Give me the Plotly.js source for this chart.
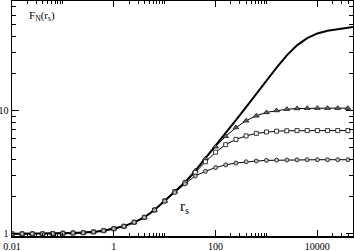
<!DOCTYPE html>
<html>
<head>
<meta charset="utf-8">
<script src="https://cdn.plot.ly/plotly-3.0.1.min.js"></script>
<style>html,body{margin:0;padding:0;background:#fff;}#chart{width:354px;height:251px;}</style>
</head>
<body>
<div id="chart"></div>
<script>
// r_s sample points (log-spaced, 0.2 decade)
var rs = [0.01, 0.0158, 0.0251, 0.0398, 0.0631, 0.1, 0.158, 0.251, 0.398, 0.631,
          1, 1.58, 2.51, 3.98, 6.31, 10, 15.8, 25.1, 39.8, 63.1,
          100, 158, 251, 398, 631, 1000, 1580, 2510, 3980, 6310,
          10000, 15800, 25100, 39800];
var rsLine = rs.concat([50000]);

// solid curve (no markers)
var fSolid = [1.0, 1.0, 1.0, 1.0, 1.005, 1.01, 1.015, 1.02, 1.035, 1.06,
              1.1, 1.15, 1.24, 1.36, 1.56, 1.85, 2.2, 2.62, 3.25, 4.1,
              5.2, 6.6, 8.4, 10.7, 13.8, 17.6, 22.4, 28.2, 34.0, 38.9,
              42.5, 44.7, 46.2, 47.3, 47.9];
// triangles
var fTri = [1.0, 1.0, 1.0, 1.0, 1.005, 1.01, 1.015, 1.02, 1.035, 1.06,
            1.1, 1.15, 1.24, 1.36, 1.56, 1.85, 2.2, 2.62, 3.25, 4.08,
            5.1, 6.2, 7.3, 8.3, 9.1, 9.7, 10.05, 10.3, 10.42, 10.48,
            10.5, 10.5, 10.5, 10.5];
// squares
var fSq = [1.0, 1.0, 1.0, 1.0, 1.005, 1.01, 1.015, 1.02, 1.035, 1.06,
           1.1, 1.15, 1.24, 1.36, 1.56, 1.85, 2.2, 2.6, 3.15, 3.85,
           4.6, 5.3, 5.85, 6.25, 6.55, 6.72, 6.82, 6.87, 6.9, 6.9,
           6.9, 6.9, 6.9, 6.9];
// circles
var fCirc = [1.0, 1.0, 1.0, 1.0, 1.005, 1.01, 1.015, 1.02, 1.035, 1.06,
             1.1, 1.15, 1.24, 1.36, 1.56, 1.84, 2.17, 2.55, 2.95, 3.22,
             3.45, 3.63, 3.76, 3.85, 3.9, 3.95, 3.97, 3.98, 3.99, 4.0,
             4.0, 4.0, 4.0, 4.0];

var xMajor = [0.01, 1, 100, 10000];
var xMajorText = ["0.01", "1", "100", "10000"];
var xMinor = [0.02,0.03,0.04,0.05,0.06,0.07,0.08,0.09,0.1,
              2,3,4,5,6,7,8,9,10,
              200,300,400,500,600,700,800,900,1000,
              20000,30000,40000];
var yMajor = [1, 10];
var yMajorText = ["1", "10"];
var yMinor = [2,3,4,5,6,7,8,9,20,30,40,50,60,70];

var mk = function(sym, fill, sz){ return {symbol: sym, size: sz, color: fill, line: {color: '#222', width: 0.9}}; };

var traces = [
  {x: rsLine, y: fSolid, mode: 'lines', line: {color: '#000', width: 2}, showlegend: false},
  {x: rs, y: fTri, mode: 'lines+markers', line: {color: '#000', width: 1}, marker: mk('triangle-up', '#666', 5), showlegend: false},
  {x: rs, y: fSq, mode: 'lines+markers', line: {color: '#000', width: 1}, marker: mk('square', '#ffffff', 4), showlegend: false},
  {x: rs, y: fCirc, mode: 'lines+markers', line: {color: '#000', width: 1}, marker: mk('circle', '#bbbbbb', 4), showlegend: false}
];

var axisCommon = {
  showgrid: false, zeroline: false, showline: true, linecolor: '#000', linewidth: 1.5,
  mirror: 'allticks', ticks: 'inside', tickcolor: '#000', tickwidth: 1,
  tickfont: {family: 'Liberation Serif, serif', size: 10, color: '#000'}
};

var layout = {
  width: 354, height: 251,
  margin: {l: 12, r: 1, t: 1, b: 15},
  paper_bgcolor: '#fff', plot_bgcolor: '#fff',
  xaxis: Object.assign({}, axisCommon, {
    type: 'log', range: [-2, 4.7], tickmode: 'array', tickvals: xMajor, ticktext: xMajorText, ticklen: 6,
    minor: {tickmode: 'array', tickvals: xMinor, ticks: 'inside', ticklen: 3, tickcolor: '#000', tickwidth: 1}
  }),
  yaxis: Object.assign({}, axisCommon, {
    type: 'log', range: [-0.018, 1.892], tickmode: 'array', tickvals: yMajor, ticktext: yMajorText, ticklen: 7,
    minor: {tickmode: 'array', tickvals: yMinor, ticks: 'inside', ticklen: 4, tickcolor: '#000', tickwidth: 1}
  }),
  annotations: [
    {xref: 'paper', yref: 'paper', x: 0.044, y: 0.936, xanchor: 'left', yanchor: 'middle', showarrow: false,
     text: 'F<sub>N</sub>(r<sub>s</sub>)', font: {family: 'Liberation Serif, serif', size: 11, color: '#000'}},
    {xref: 'paper', yref: 'paper', x: 0.487, y: 0.123, xanchor: 'left', yanchor: 'middle', showarrow: false,
     text: 'r<sub>s</sub>', font: {family: 'Liberation Serif, serif', size: 15, color: '#000'}}
  ]
};

Plotly.newPlot('chart', traces, layout, {staticPlot: true, displayModeBar: false});
</script>
</body>
</html>
